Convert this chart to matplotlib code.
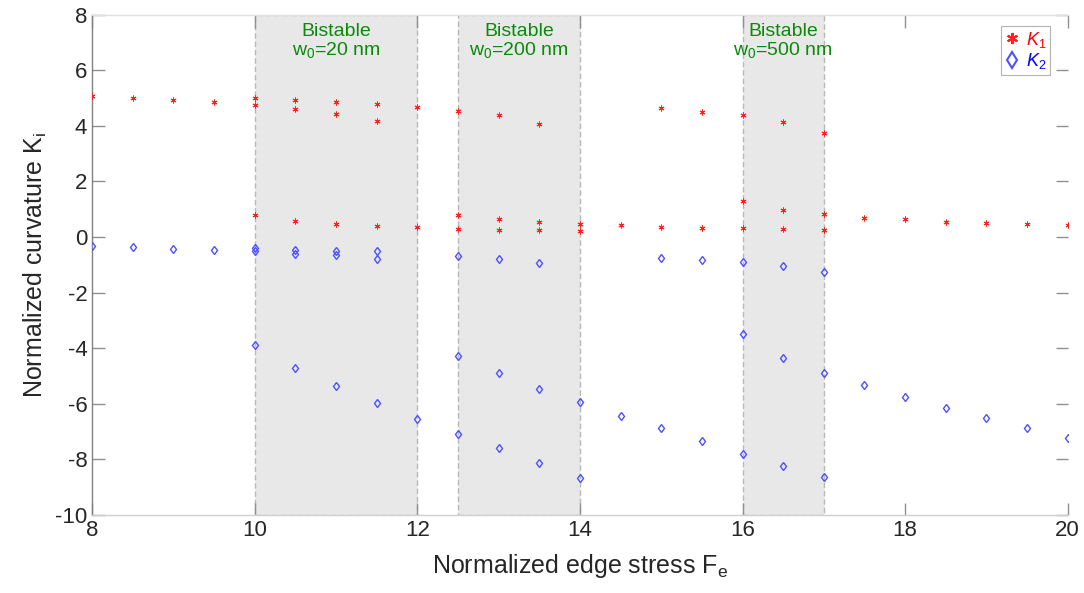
import matplotlib
matplotlib.use("Agg")
import matplotlib.pyplot as plt
import numpy as np

plt.rcParams['font.family'] = ['Liberation Sans', 'DejaVu Sans']
plt.rcParams['axes.unicode_minus'] = False
plt.rcParams['mathtext.fontset'] = 'custom'
plt.rcParams['mathtext.rm'] = 'Liberation Sans'
plt.rcParams['mathtext.it'] = 'Liberation Sans:italic'

# K1 data (x, value)
k1_x = [8, 8.5, 9, 9.5,
        10, 10, 10,
        10.5, 10.5, 10.5,
        11, 11, 11,
        11.5, 11.5, 11.5,
        12, 12,
        12.5, 12.5, 12.5,
        13, 13, 13,
        13.5, 13.5, 13.5,
        14, 14,
        14.5,
        15, 15,
        15.5, 15.5,
        16, 16, 16,
        16.5, 16.5, 16.5,
        17, 17, 17,
        17.5, 18, 18.5, 19, 19.5, 20]
k1_y = [5.07, 5.00, 4.93, 4.85,
        5.02, 4.75, 0.78,
        4.95, 4.62, 0.57,
        4.87, 4.44, 0.46,
        4.78, 4.17, 0.40,
        4.67, 0.35,
        4.55, 0.79, 0.30,
        4.38, 0.65, 0.25,
        4.07, 0.55, 0.24,
        0.48, 0.20,
        0.43,
        4.64, 0.37,
        4.51, 0.34,
        4.38, 1.31, 0.32,
        4.15, 0.99, 0.29,
        3.76, 0.82, 0.27,
        0.70, 0.64, 0.55, 0.52, 0.47, 0.45]

# K2 data (x, value)
k2_x = [8, 8.5, 9, 9.5,
        10, 10, 10,
        10.5, 10.5, 10.5,
        11, 11, 11,
        11.5, 11.5, 11.5,
        12,
        12.5, 12.5, 12.5,
        13, 13, 13,
        13.5, 13.5, 13.5,
        14, 14,
        14.5,
        15, 15,
        15.5, 15.5,
        16, 16, 16,
        16.5, 16.5, 16.5,
        17, 17, 17,
        17.5, 18, 18.5, 19, 19.5, 20]
k2_y = [-0.33, -0.37, -0.43, -0.48,
        -0.40, -0.52, -3.90,
        -0.46, -0.60, -4.73,
        -0.50, -0.66, -5.36,
        -0.52, -0.78, -5.97,
        -6.54,
        -0.69, -4.27, -7.09,
        -0.78, -4.91, -7.61,
        -0.93, -5.46, -8.15,
        -5.95, -8.66,
        -6.43,
        -0.76, -6.89,
        -0.83, -7.35,
        -0.91, -3.51, -7.80,
        -1.04, -4.35, -8.23,
        -1.27, -4.88, -8.65,
        -5.33, -5.76, -6.15, -6.51, -6.89, -7.23]

# Bistable regions
region_start = [10, 12.5, 16]
region_end = [12, 14, 17]
region_text = ["Bistable\nw$_0$=20 nm", "Bistable\nw$_0$=200 nm", "Bistable\nw$_0$=500 nm"]

fig = plt.figure(figsize=(10.84, 5.93), dpi=100)
ax = fig.add_axes([0.085, 0.132, 0.9, 0.843])

for s, e, t in zip(region_start, region_end, region_text):
    ax.axvspan(s, e, facecolor='#e8e8e8', edgecolor='#b8b8b8', linestyle=(0, (4, 2)),
               linewidth=1.0, zorder=0)
    ax.text((s + e) / 2, 7.72, t, ha='center', va='top', color='#0a8a0a',
            fontsize=14, linespacing=1.0)

ax.plot(k1_x, k1_y, linestyle='none', marker=(6, 2, 0), markersize=4.2, color='#ff2020',
        markeredgewidth=0.7, label='$K_1$', zorder=3)
ax.plot(k2_x, k2_y, linestyle='none', marker='d', markersize=4.5, markerfacecolor='none',
        markeredgecolor='#5050ff', markeredgewidth=1.0, label='$K_2$', zorder=3)

ax.set_xlim(8, 20)
ax.set_ylim(-10, 8)
ax.set_xticks(np.arange(8, 21, 2))
ax.set_yticks(np.arange(-10, 9, 2))

ax.spines['left'].set_color('#808080')
ax.spines['bottom'].set_color('#d0d0d0')
ax.spines['top'].set_color('#e0e0e0')
ax.spines['right'].set_visible(False)
for sp in ax.spines.values():
    sp.set_linewidth(1.0)

ax.tick_params(axis='both', direction='in', length=9, width=1.0, color='#909090',
               labelsize=16, labelcolor='#262626', right=True, top=True)

ax.set_xlabel('Normalized edge stress F$_\\mathregular{e}$', fontsize=18, color='#262626', labelpad=8)
ax.set_ylabel('Normalized curvature K$_\\mathregular{i}$', fontsize=18, color='#262626', labelpad=4)

leg = ax.legend(loc='upper right', bbox_to_anchor=(0.986, 0.985), fontsize=13,
                frameon=True, fancybox=False, handlelength=0.8, handletextpad=0.4,
                borderpad=0.2, labelspacing=0.1, borderaxespad=0.2)
leg.get_frame().set_edgecolor('#a0a0a0')
leg.get_frame().set_linewidth(0.8)
for txt, c in zip(leg.get_texts(), ['#ff0000', '#0000ff']):
    txt.set_color(c)
for h in leg.legend_handles:
    h.set_markersize(8)
    h.set_markeredgewidth(1.5)

fig.savefig('out.png', dpi=100)
